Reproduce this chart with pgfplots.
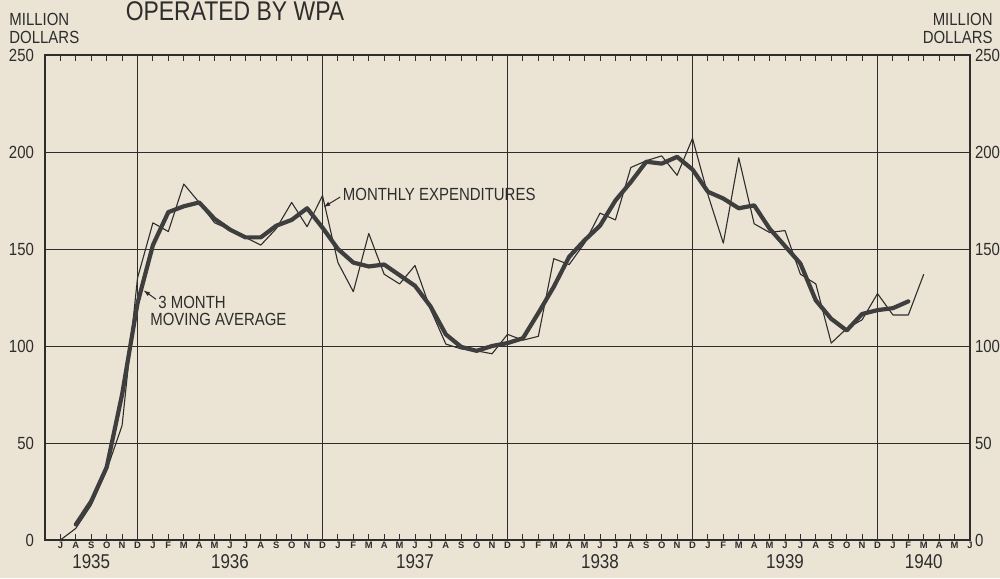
\documentclass[border=0pt]{standalone}
\usepackage{fontspec}
\setmainfont{Liberation Sans}[FakeStretch=0.85]
\newfontfamily\monthfont{Liberation Sans}
\usepackage{pgfplots}
\usepackage{pgfplotstable}
\pgfplotsset{compat=1.18}
\usetikzlibrary{arrows.meta}
\definecolor{paper}{RGB}{235,228,213}
\definecolor{ink}{RGB}{45,45,45}

\pgfplotstableread{
m v
1 0
2 6
3 18
4 36
5 59
6 135
7 163.5
8 159
9 183.5
10 174
11 163.5
12 160
13 156
14 152
15 160.5
16 174
17 161.5
18 177.5
19 143
20 128
21 158
22 137
23 132
24 141.5
25 119
26 101
27 98.5
28 97.5
29 96
30 106
31 103
32 105
33 145
34 142
35 153
36 168.5
37 165
38 192
39 195.5
40 198
41 188
42 207
43 178
44 153
45 197
46 163
47 158.5
48 159.5
49 137
50 132
51 101.5
52 109
53 113.5
54 127
55 116
56 116
57 137
}\monthly

\pgfplotstableread{
m v
2 8
3 20
4 37.5
5 75
6 122
7 152
8 169
9 172
10 174
11 165.5
12 160
13 156
14 156
15 162
16 165
17 171
18 161
19 150
20 143
21 141
22 142
23 136.5
24 131
25 120.5
26 106
27 99.5
28 97.5
29 100
30 101.5
31 104
32 117
33 130.5
34 146
35 154.5
36 162
37 175
38 184.5
39 195
40 194
41 197.5
42 191
43 179.5
44 176
45 171
46 172.5
47 160.5
48 151.5
49 142.5
50 123.5
51 114
52 108
53 116.5
54 118.5
55 119.5
56 123
}\movavg

\begin{document}
\begin{tikzpicture}
\path[use as bounding box, fill=paper] (-22.5pt,-19pt) rectangle (477.5pt,270pt);
\begin{axis}[
  at={(0,0)}, anchor=south west,
  width=462.5pt, height=242.5pt, scale only axis,
  xmin=0, xmax=60, ymin=0, ymax=250,
  /pgf/number format/assume math mode=true,
  axis line style={ink, line width=0.8pt},
  xtick={0,...,60},
  xticklabels={,J,A,S,O,N,D,J,F,M,A,M,J,J,A,S,O,N,D,J,F,M,A,M,J,J,A,S,O,N,D,J,F,M,A,M,J,J,A,S,O,N,D,J,F,M,A,M,J,J,A,S,O,N,D,J,F,M,A,M,J},
  xticklabel style={font=\monthfont\bfseries\fontsize{4.7}{4.7}\selectfont, text=ink, inner sep=0.6pt},
  x tick style={ink, line width=0.5pt},
  major tick length=3pt,
  tick align=inside,
  xtick pos=both,
  ytick={0,50,...,250},
  ytick style={draw=none},
  ymajorgrids,
  grid style={ink, line width=0.5pt},
  extra x ticks={6,18,30,42,54},
  extra x tick labels={},
  extra x tick style={grid=major, major tick length=0pt},
  yticklabel style={font=\fontsize{8.8}{8.8}\selectfont, text=ink, xshift=-2pt},
  clip=false,
]
\addplot[ink, line width=0.55pt, line join=round] table[x=m, y=v] {\monthly};
\addplot[ink!92, line width=2.1pt, line join=round, line cap=round] table[x=m, y=v] {\movavg};

\foreach \yr/\pos in {1935/3, 1936/12, 1937/24, 1938/36, 1939/48, 1940/57}{
  \edef\temp{\noexpand\node[font=\noexpand\fontsize{10}{10}\noexpand\selectfont, text=ink, anchor=center] at (axis cs:\pos,0) [yshift=-11pt] {\yr};}
  \temp
}

\node[anchor=west, inner sep=0pt, font=\fontsize{8.8}{8.8}\selectfont, text=ink] at (axis cs:19.3,178) {MONTHLY EXPENDITURES};
\draw[ink, line width=0.5pt, -{Latex[length=3.5pt, width=2.2pt]}] (axis cs:19.15,176.8) -- (axis cs:18.05,171.5);

\node[anchor=west, inner sep=0pt, font=\fontsize{8.8}{8.8}\selectfont, text=ink] at (axis cs:7.33,122.3) {3 MONTH};
\node[anchor=west, inner sep=0pt, font=\fontsize{8.8}{8.8}\selectfont, text=ink] at (axis cs:6.81,113.5) {MOVING AVERAGE};
\draw[ink, line width=0.5pt, -{Latex[length=3.5pt, width=2.2pt]}] (axis cs:7.2,124.1) -- (axis cs:6.37,128.8);
\end{axis}

\begin{axis}[
  at={(0,0)}, anchor=south west,
  width=462.5pt, height=242.5pt, scale only axis,
  xmin=0, xmax=60, ymin=0, ymax=250,
  /pgf/number format/assume math mode=true,
  hide x axis,
  axis y line*=right,
  axis line style={draw=none},
  ytick={0,50,...,250},
  ytick style={draw=none},
  yticklabel style={font=\fontsize{8.8}{8.8}\selectfont, text=ink, xshift=-1pt},
]
\end{axis}

\node[anchor=south west, align=left, inner sep=0pt, font=\fontsize{8.8}{8.8}\selectfont, text=ink] at (-18pt,248pt) {MILLION\\DOLLARS};
\node[anchor=south east, align=right, inner sep=0pt, font=\fontsize{8.8}{8.8}\selectfont, text=ink] at (474pt,248pt) {MILLION\\DOLLARS};
\node[anchor=base, inner sep=0pt, font=\fontsize{13.5}{13.5}\selectfont, text=ink] at (95pt,259.5pt) {OPERATED BY WPA};
\end{tikzpicture}
\end{document}
